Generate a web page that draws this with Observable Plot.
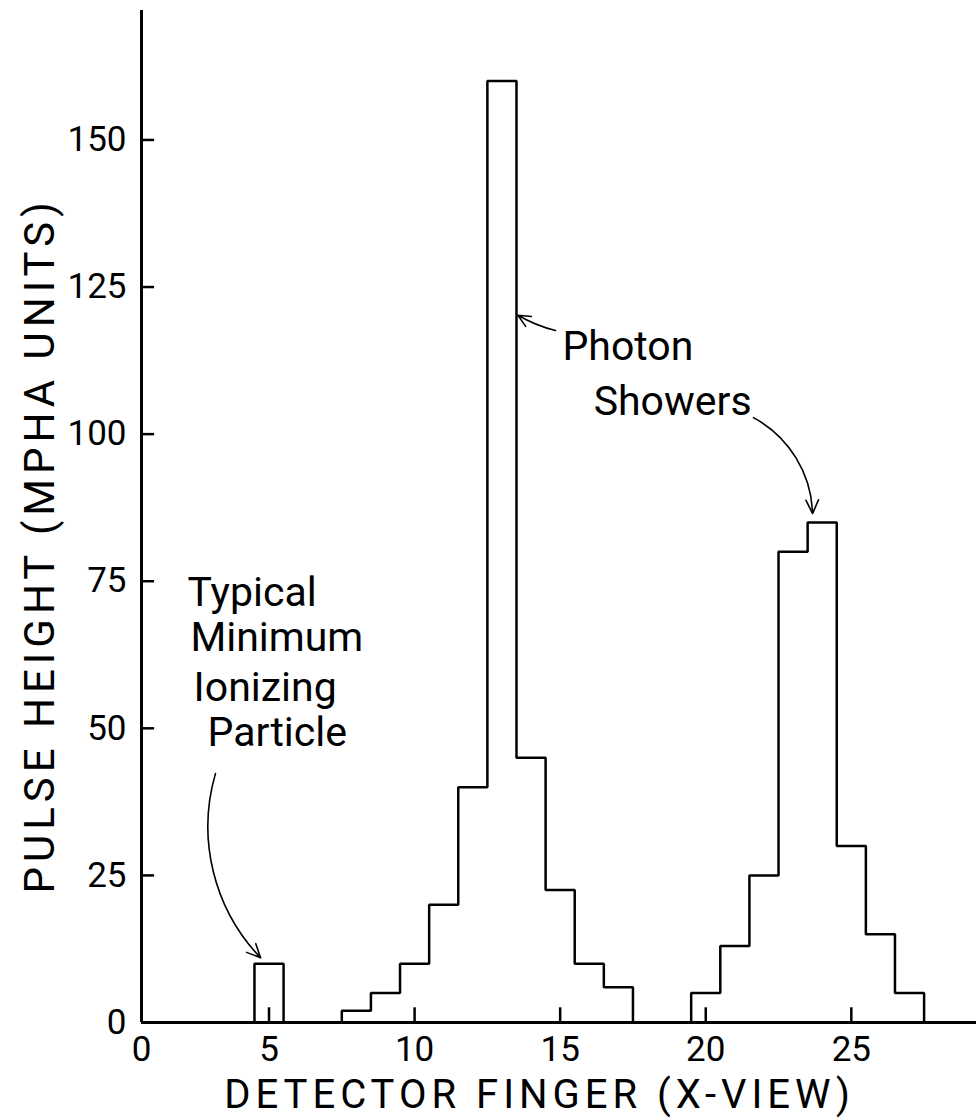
<!DOCTYPE html>
<html><head><meta charset="utf-8">
<script src="https://cdn.jsdelivr.net/npm/d3@7"></script>
<script src="https://cdn.jsdelivr.net/npm/@observablehq/plot@0.6"></script>
<style>
body{margin:0;background:#fff;}
#chart svg{display:block;}
</style></head><body><div id="chart"></div>
<script>
// Data
const fingers = [5, 8, 9, 10, 11, 12, 13, 14, 15, 16, 17, 20, 21, 22, 23, 24, 25, 26, 27];
const pulseHeight = [10, 2, 5, 10, 20, 40, 160, 45, 22.5, 10, 6, 5, 13, 25, 80, 85, 30, 15, 5];
const xTickValues = [5, 10, 15, 20, 25];
const xTickLabels = ["0", "5", "10", "15", "20", "25"];
const xLabelValues = [0, 5, 10, 15, 20, 25];
const yTickValues = [25, 50, 75, 100, 125, 150];
const yLabelValues = [0, 25, 50, 75, 100, 125, 150];
const yTickLabels = ["0", "25", "50", "75", "100", "125", "150"];
const xTitle = "DETECTOR FINGER (X-VIEW)";
const yTitle = "PULSE HEIGHT (MPHA UNITS)";
const noteText = ["Typical", "Minimum", "Ionizing", "Particle", "Photon", "Showers"];
const noteX = [2.2, 2.3, 2.41, 2.89, 15.08, 16.15];
const noteY = [73.1, 65.4, 56.9, 49.3, 114.9, 105.5];
// arrows: [x1, y1, x2, y2]
const arrowPhoton = [14.84, 117.6, 13.55, 120.2];
const arrowShowers = [21.64, 102.8, 23.67, 86.5];
const arrowTypical = [3.16, 42.3, 4.71, 11.0];

const xMin = 0.62, xMax = 29.3, yMax = 172;

// Build histogram outlines (one closed step outline per contiguous run)
const outline = [];
let run = 0;
for (let i = 0; i < fingers.length; i++) {
  if (i > 0 && fingers[i] !== fingers[i - 1] + 1) {
    outline.push({x: fingers[i - 1] + 0.5, y: 0, run});
    run++;
  }
  if (i === 0 || fingers[i] !== fingers[i - 1] + 1) outline.push({x: fingers[i] - 0.5, y: 0, run});
  outline.push({x: fingers[i] - 0.5, y: pulseHeight[i], run});
}
outline.push({x: fingers[fingers.length - 1] + 0.5, y: 0, run});

const font = "Roboto";
const arrowOpts = {stroke: "black", strokeWidth: 1.6, headLength: 14, headAngle: 50};

const plot = Plot.plot({
  width: 980,
  height: 1120,
  marginLeft: 141,
  marginRight: 4,
  marginTop: 10,
  marginBottom: 98,
  style: {fontFamily: font, background: "white", color: "black"},
  x: {domain: [xMin, xMax], axis: null},
  y: {domain: [0, yMax], axis: null},
  marks: [
    // axes lines
    Plot.ruleX([xMin], {y1: 0, y2: yMax, stroke: "black", strokeWidth: 3}),
    Plot.ruleY([0], {x1: xMin, x2: xMax, stroke: "black", strokeWidth: 3}),
    // inward ticks
    Plot.ruleY(yTickValues, {y: d => d, x1: xMin, x2: xMin + 0.45, stroke: "black", strokeWidth: 2.5}),
    Plot.ruleX(xTickValues, {x: d => d, y1: 0, y2: 2.5, stroke: "black", strokeWidth: 2.5}),
    // tick labels
    Plot.text(yLabelValues, {x: xMin, y: d => d, text: (d, i) => yTickLabels[i], textAnchor: "end", dx: -15, fontSize: 35, lineAnchor: "middle", fill: "black"}),
    Plot.text(xLabelValues, {x: d => Math.max(d, xMin), y: 0, text: (d, i) => xTickLabels[i], dy: 14, fontSize: 35, lineAnchor: "top", fill: "black"}),
    // histogram outline
    Plot.line(outline, {x: "x", y: "y", z: "run", curve: "step-after", stroke: "black", strokeWidth: 2.5, strokeLinejoin: "miter"}),
    // annotations
    Plot.text(noteText, {x: (d, i) => noteX[i], y: (d, i) => noteY[i], text: d => d, textAnchor: "start", lineAnchor: "middle", fontSize: 41, fill: "black"}),
    Plot.arrow([arrowPhoton], {x1: d => d[0], y1: d => d[1], x2: d => d[2], y2: d => d[3], bend: 8, ...arrowOpts}),
    Plot.arrow([arrowShowers], {x1: d => d[0], y1: d => d[1], x2: d => d[2], y2: d => d[3], bend: 30, ...arrowOpts}),
    Plot.arrow([arrowTypical], {x1: d => d[0], y1: d => d[1], x2: d => d[2], y2: d => d[3], bend: -30, ...arrowOpts}),
    // titles
    Plot.text([xTitle], {x: 14.29, y: 0, text: d => d, dy: 57, lineAnchor: "top", fontSize: 40, fill: "black"}),
    Plot.text([yTitle], {x: xMin - 101 / 29.11, y: 81.1, text: d => d, rotate: -90, lineAnchor: "middle", fontSize: 42, fill: "black"})
  ]
});
d3.select(plot).selectAll("text").filter(function() { return this.textContent === xTitle || this.textContent === yTitle; })
  .style("letter-spacing", "5px");
document.getElementById("chart").appendChild(plot);
</script>
</body></html>
